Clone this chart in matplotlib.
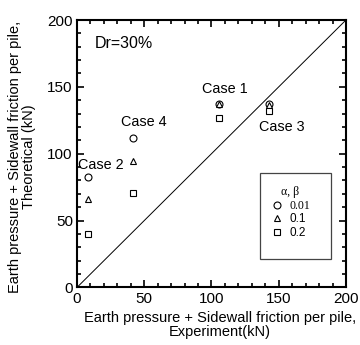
import matplotlib
matplotlib.use('Agg')
from matplotlib import pyplot as plt
from matplotlib.patches import Rectangle
from matplotlib.ticker import MultipleLocator

plt.rcParams['font.family'] = ['Liberation Sans', 'DejaVu Sans']

# experiment values (x) for each case
cases = ['Case 2', 'Case 4', 'Case 1', 'Case 3']
experiment = [8.4, 41.6, 105.3, 142.7]
# theoretical values for alpha, beta = 0.01, 0.1, 0.2
theo_001 = [82.7, 111.9, 137.3, 137.5]
theo_01 = [65.8, 94.5, 137.0, 136.5]
theo_02 = [39.9, 70.3, 126.6, 131.6]
legend_labels = ['0.01', '0.1', '0.2']

fig = plt.figure(figsize=(3.6, 3.45), dpi=100)
ax = fig.add_axes([0.214, 0.167, 0.747, 0.775])

ax.plot([0, 200], [0, 200], color='black', lw=0.7)

mk = dict(ls='none', mfc='white', mec='black', mew=0.8, ms=5)
ax.plot(experiment, theo_001, marker='o', label=legend_labels[0], **mk)
ax.plot(experiment, theo_01, marker='^', label=legend_labels[1], **mk)
ax.plot(experiment, theo_02, marker='s', label=legend_labels[2], **mk)

ax.set_xlim(0, 200)
ax.set_ylim(0, 200)
ax.xaxis.set_major_locator(MultipleLocator(50))
ax.yaxis.set_major_locator(MultipleLocator(50))
ax.xaxis.set_minor_locator(MultipleLocator(10))
ax.yaxis.set_minor_locator(MultipleLocator(10))
ax.tick_params(which='both', direction='in', top=True, right=True, width=1.2)
ax.tick_params(which='major', length=5, labelsize=11, pad=3)
ax.tick_params(which='minor', length=3)
for s in ax.spines.values():
    s.set_linewidth(1.5)

ax.set_xlabel('Earth pressure + Sidewall friction per pile,\nExperiment(kN)', fontsize=10.5,
              linespacing=1.0)
ax.xaxis.set_label_coords(0.53, -0.09, transform=ax.transAxes)
ax.xaxis.label.set_va('top')
ax.set_ylabel('Earth pressure + Sidewall friction per pile,\nTheoretical (kN)', fontsize=10.5,
              linespacing=1.0)
ax.yaxis.set_label_coords(-0.203, 0.489, transform=ax.transAxes)
ax.yaxis.label.set_va('center')

ax.text(12.9, 182.7, 'Dr=30%', fontsize=11.5, va='center', ha='left')
label_pos = {'Case 2': (17.5, 91.7), 'Case 4': (49.5, 123.6),
             'Case 1': (110, 148.5), 'Case 3': (152, 119.7)}
for c in cases:
    ax.text(label_pos[c][0], label_pos[c][1], c, fontsize=10.4, ha='center', va='center')

ax.add_patch(Rectangle((0.681, 0.106), 0.264, 0.322, transform=ax.transAxes,
                       fill=False, ec='#444444', lw=0.9))
leg = ax.legend(loc='upper left', bbox_to_anchor=(0.685, 0.415), frameon=False,
                title='α, β', fontsize=8.5, handlelength=1.0, handletextpad=0.6,
                labelspacing=0.15, borderpad=0.3)
leg.get_title().set_family('Liberation Serif')
leg.get_title().set_fontsize(8.5)
leg.get_texts()[0].set_family('Liberation Serif')

fig.savefig('out.png', dpi=100)
